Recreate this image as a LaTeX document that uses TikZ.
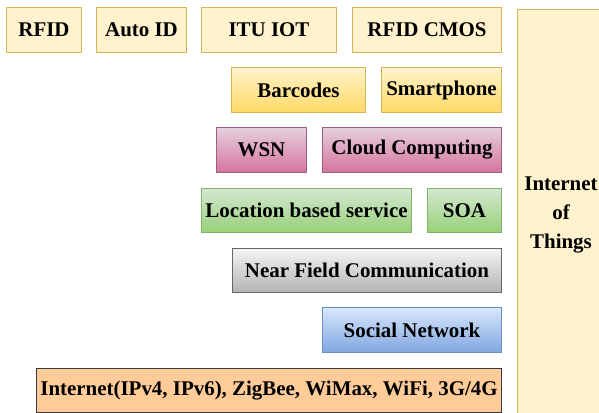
\documentclass[tikz,border=0pt]{standalone}
\usepackage{fontspec}
\setmainfont{Liberation Serif}
\begin{document}
\begin{tikzpicture}[x=1bp,y=-1bp,
  box/.style={rectangle, line width=1.1bp, inner sep=0pt, font=\fontsize{21}{25}\selectfont\bfseries},
  ylight/.style={box, fill=yellowA, draw=yellowD},
  ygrad/.style={box, top color=yellowA, bottom color=yellowB, draw=yellowD},
  pgrad/.style={box, top color=pinkA, bottom color=pinkB, draw=pinkD},
  ggrad/.style={box, top color=greenA, bottom color=greenB, draw=greenD},
  sgrad/.style={box, top color=greyA, bottom color=greyB, draw=greyD},
  bgrad/.style={box, top color=blueA, bottom color=blueB, draw=blueD},
  obox/.style={box, fill=orangeA, draw=orangeD}
]
\definecolor{yellowA}{HTML}{FFF2CC}
\definecolor{yellowB}{HTML}{FFD966}
\definecolor{yellowD}{HTML}{D6B656}
\definecolor{pinkA}{HTML}{E6D0DE}
\definecolor{pinkB}{HTML}{D5739D}
\definecolor{pinkD}{HTML}{996185}
\definecolor{greenA}{HTML}{D5E8D4}
\definecolor{greenB}{HTML}{97D077}
\definecolor{greenD}{HTML}{82B366}
\definecolor{greyA}{HTML}{F5F5F5}
\definecolor{greyB}{HTML}{B3B3B3}
\definecolor{greyD}{HTML}{666666}
\definecolor{blueA}{HTML}{DAE8FC}
\definecolor{blueB}{HTML}{7EA6E0}
\definecolor{blueD}{HTML}{6C8EBF}
\definecolor{orangeA}{HTML}{FFCC99}
\definecolor{orangeD}{HTML}{36393D}
\useasboundingbox (0,0) rectangle (599,412);
\fill[white] (0,0) rectangle (599,412);
% boxes given by corners (x1,y1) -- (x2,y2)
\newcommand{\blk}[7]{\node[#1, minimum width={#4-#2}, minimum height={#5-#3}] (#6) at ({(#2+#4)/2},{(#3+#5)/2}) {#7};}
% top row
\blk{ylight}{6}{7}{82}{53}{rfid}{RFID}
\blk{ylight}{96}{7}{187}{53}{autoid}{Auto ID}
\blk{ylight}{201}{7}{337}{53}{ituiot}{ITU IOT}
\blk{ylight}{352}{7}{502}{53}{rfidcmos}{RFID CMOS}
% second row
\blk{ygrad}{231}{67}{366}{113}{barcodes}{Barcodes}
\blk{ygrad}{381}{67}{502}{113}{smartphone}{Smartphone}
% third row
\blk{pgrad}{216}{127}{307}{173}{wsn}{WSN}
\blk{pgrad}{322}{127}{502}{173}{cloud}{Cloud Computing}
% fourth row
\blk{ggrad}{201}{188}{412}{233}{lbs}{Location based service}
\blk{ggrad}{427}{188}{502}{233}{soa}{SOA}
% fifth row
\blk{sgrad}{232}{248}{502}{293}{nfc}{Near Field Communication}
% sixth row
\blk{bgrad}{322}{307}{502}{353}{social}{Social Network}
% bottom row
\blk{obox}{36}{368}{502}{413}{net}{Internet(IPv4, IPv6), ZigBee, WiMax, WiFi, 3G/4G}
% side column
\node[ylight, minimum width=88, minimum height=413, align=center,
      font=\fontsize{21}{29.5}\selectfont\bfseries] (iot) at (561,215)
  {Internet\\of\\Things};
\end{tikzpicture}
\end{document}
